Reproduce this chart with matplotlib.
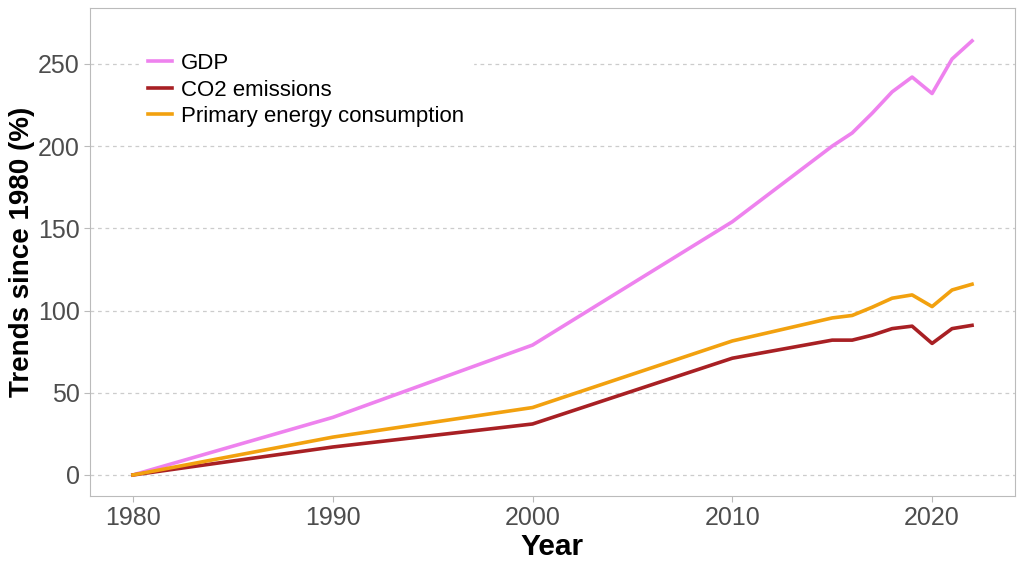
import matplotlib
matplotlib.use("Agg")
import matplotlib.pyplot as plt

plt.rcParams['font.family'] = ['Liberation Sans', 'DejaVu Sans']

years = [1980, 1990, 2000, 2010, 2015, 2016, 2017, 2018, 2019, 2020, 2021, 2022]
gdp = [0, 35, 79, 154, 200, 208, 220, 233, 242, 232, 253, 264]
co2 = [0, 17, 31, 71, 82, 82, 85, 89, 90.5, 80, 89, 91]
energy = [0, 23, 41, 81.5, 95.5, 97, 102, 107.5, 109.5, 102.4, 112.5, 116]

fig = plt.figure(figsize=(10.24, 5.69), dpi=100)
ax = fig.add_axes([90/1024, 1 - 496/569, (1015-90)/1024, (496-8)/569])

ax.plot(years, gdp, color='#EE82EE', lw=2.6, label='GDP')
ax.plot(years, co2, color='#A82024', lw=2.6, label='CO2 emissions')
ax.plot(years, energy, color='#F2A10F', lw=2.6, label='Primary energy consumption')

ax.set_xlim(1977.85, 2024.15)
ax.set_ylim(-12.8, 284)
ax.set_xticks([1980, 1990, 2000, 2010, 2020])
ax.set_yticks([0, 50, 100, 150, 200, 250])
ax.yaxis.grid(True, color='#cccccc', ls=(0, (3, 3)), lw=0.9)
ax.set_axisbelow(True)
for s in ax.spines.values():
    s.set_color('#bbbbbb')
ax.tick_params(colors='#bbbbbb', labelcolor='#4d4d4d', labelsize=18, length=4)

ax.set_xlabel('Year', fontsize=21.5, fontweight='bold', labelpad=2)
ax.set_ylabel('Trends since 1980 (%)', fontsize=20, fontweight='bold', labelpad=2)

leg = ax.legend(loc='upper left', bbox_to_anchor=(0.053, 0.926), fontsize=16,
                frameon=True, framealpha=1, edgecolor='white', fancybox=False,
                borderaxespad=0, borderpad=0.4, handlelength=1.1,
                handletextpad=0.4, labelspacing=0.25)

plt.savefig('out.png', dpi=100)
